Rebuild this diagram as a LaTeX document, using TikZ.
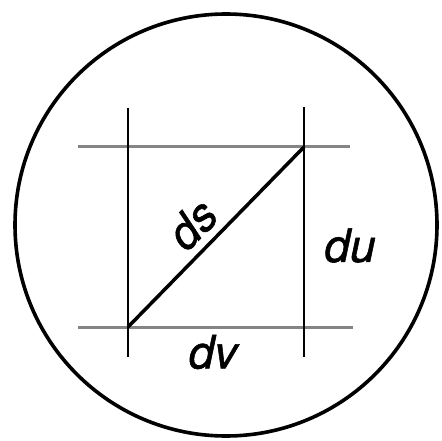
\documentclass[tikz,border=0pt]{standalone}
\usepackage{fontspec}
\setmainfont{TeX Gyre Heros}
\newfontfamily\lblfont[FakeBold=1.2]{TeX Gyre Heros}
\begin{document}
\begin{tikzpicture}[x=1pt,y=1pt,
  gridline/.style={draw=black!48, line width=3pt},
  vline/.style={draw=black, line width=2.2pt},
  lbl/.style={font=\fontsize{46}{46}\lblfont\itshape, inner sep=0pt}]
\useasboundingbox (0,0) rectangle (442,440);
\node[draw=black, line width=3.6pt, circle, minimum size=422pt, inner sep=0pt] (disc) at (226,215) {};
% grid lines
\coordinate (h1a) at (78,293); \coordinate (h1b) at (350,293);
\coordinate (h2a) at (78,113); \coordinate (h2b) at (353,113);
\coordinate (v1a) at (128,332); \coordinate (v1b) at (128,83);
\coordinate (v2a) at (304,333); \coordinate (v2b) at (304,83);
\draw[gridline] (h1a) -- (h1b);
\draw[gridline] (h2a) -- (h2b);
\draw[vline] (v1a) -- (v1b);
\draw[vline] (v2a) -- (v2b);
\coordinate (A) at (128,113);
\coordinate (B) at (304,293);
\draw[black, line width=3.5pt] (A) -- (B);
\node[lbl, rotate=45.5] (ds) at (192,216) {ds};
\node[lbl] (du) at (350,194.5) {du};
\node[lbl] (dv) at (213,88) {dv};
\end{tikzpicture}
\end{document}
